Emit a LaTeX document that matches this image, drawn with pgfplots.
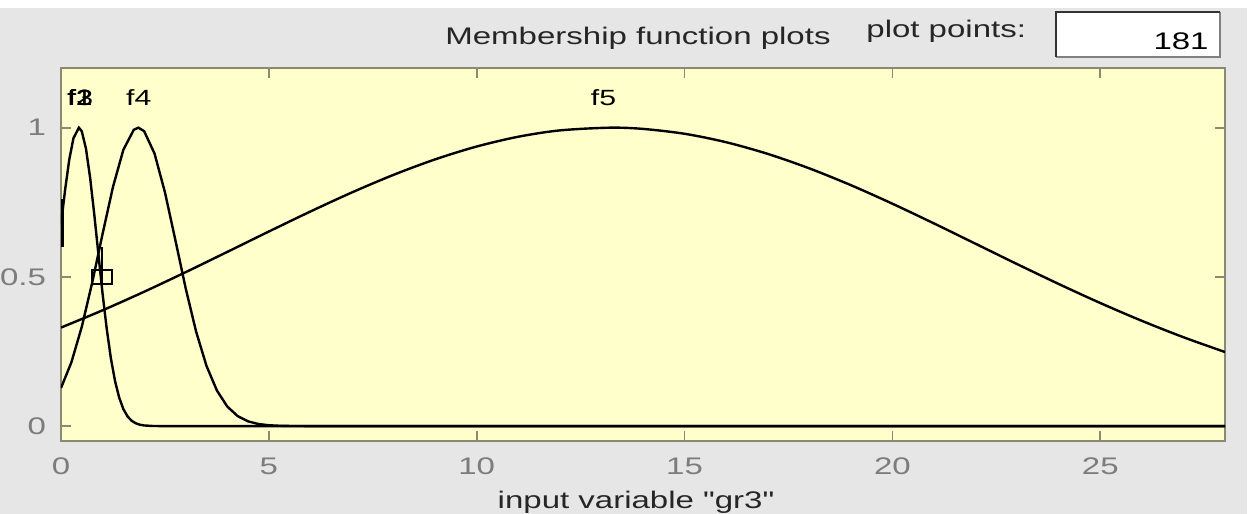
\documentclass[border=0pt]{standalone}
\usepackage{fontspec}
\setmainfont[FakeStretch=1.375]{Liberation Sans}
\newfontfamily\lib[FakeStretch=1.375]{Liberation Sans}
\usepackage{pgfplots}
\pgfplotsset{compat=1.18}
\definecolor{winbg}{HTML}{E6E6E6}
\definecolor{axbg}{HTML}{FFFFCC}
\definecolor{framec}{HTML}{8A8A74}
\definecolor{tickc}{HTML}{7C7C7C}
\definecolor{textc}{HTML}{262626}
\newcommand{\tf}{\lib\fontsize{12}{14}\selectfont}
\newcommand{\lf}{\lib\fontsize{11}{13}\selectfont}
\begin{document}
\begin{tikzpicture}
\begin{scope}[x=0.5pt,y=-0.5pt]
\fill[winbg] (0,0) rectangle (1254,514);
\fill[white] (0,0) rectangle (1254,8);
\fill[white] (1247,0) rectangle (1254,514);
\node[anchor=base, text=textc, font=\tf, inner sep=0] at (638,45) {Membership function plots};
\node[anchor=base west, text=textc, font=\tf, inner sep=0] at (866,38) {plot points:};
\fill[white] (1056,12) rectangle (1220,57);
\draw[gray, line width=0.6pt] (1056,57) -- (1220,57) -- (1220,12);
\draw[black!80, line width=1.2pt] (1056,57) -- (1056,12) -- (1220,12);
\node[anchor=base east, text=black, font=\tf, inner sep=0] at (1209,49) {181};
\end{scope}
\begin{axis}[
  at={(30.5pt,-220.5pt)}, anchor=south west, scale only axis,
  width=582pt, height=186.5pt,
  xmin=0, xmax=28, ymin=-0.05, ymax=1.2,
  axis background/.style={fill=axbg},
  axis line style={draw=framec, line width=0.9pt},
  xtick={0,5,10,15,20,25}, ytick={0,0.5,1},
  tick align=inside, major tick length=5pt,
  tick style={draw=framec, line width=0.9pt},
  tick label style={font=\tf, text=tickc},
  /pgf/number format/assume math mode=true,
  yticklabel style={xshift=-4pt},
  xticklabel style={yshift=-5pt},
  xlabel={input variable "gr3"},
  xlabel style={at={(axis description cs:0.494,-0.18)}, anchor=base, font=\tf, text=textc, inner sep=0},
]
% f5
\addplot[black, line width=1.2pt, smooth, tension=0.5] coordinates {
(0,0.3301) (1,0.3880) (2,0.4502) (3,0.5159) (4,0.5837) (5,0.6520) (6,0.7191) (7,0.7831)
(8,0.8420) (9,0.8938) (10,0.9369) (11,0.9697) (12,0.9909) (13.2,1.0) (14,0.9959)
(15,0.9796) (16,0.9513) (17,0.9122) (18,0.8637) (19,0.8074) (20,0.7452) (21,0.6791)
(22,0.6110) (23,0.5428) (24,0.4762) (25,0.4124) (26,0.3527) (27,0.2978) (28,0.2482)};
% f4
\addplot[black, line width=1.2pt] coordinates {
(0,0.1276) (0.25,0.2137) (0.5,0.3326) (0.75,0.4803) (1.0,0.6439) (1.25,0.8013) (1.5,0.9258)
(1.75,0.9928) (1.86,1.0) (2.0,0.9884) (2.25,0.9134) (2.5,0.7837) (2.75,0.6241) (3.0,0.4613)
(3.25,0.3166) (3.5,0.2017) (3.75,0.1193) (4.0,0.0655) (4.25,0.0334) (4.5,0.0158)
(4.75,0.0069) (5.0,0.0028) (5.25,0.0011) (5.5,0.0004) (6,0) (28,0)};
% f3
\addplot[black, line width=1.2pt] coordinates {
(0,0.675) (0.1,0.793) (0.2,0.894) (0.3,0.965) (0.43,1.0) (0.5,0.988) (0.6,0.930)
(0.7,0.833) (0.8,0.710) (0.9,0.576) (1.0,0.444) (1.1,0.326) (1.2,0.227) (1.3,0.151)
(1.4,0.0952) (1.5,0.0571) (1.6,0.0326) (1.7,0.0177) (1.8,0.0092) (1.9,0.0045)
(2.0,0.0021) (2.2,0.0004) (2.4,0) (28,0)};
% degenerate functions
\addplot[black, line width=1.6pt] coordinates {(0.03,0.60) (0.03,0.76)};
\addplot[black, line width=0.9pt] coordinates {(0.74,0.476) (1.22,0.476) (1.22,0.524) (0.74,0.524) (0.74,0.476)};
\addplot[black, line width=0.9pt] coordinates {(0.98,0.476) (0.98,0.60)};
% labels
\node[anchor=base, font=\lf, inner sep=0] at (axis cs:0.45,1.076) {f1};
\node[anchor=base, font=\lf, inner sep=0] at (axis cs:0.46,1.076) {f2};
\node[anchor=base, font=\lf, inner sep=0] at (axis cs:0.47,1.076) {f3};
\node[anchor=base, font=\lf, inner sep=0] at (axis cs:1.87,1.076) {f4};
\node[anchor=base, font=\lf, inner sep=0] at (axis cs:13.05,1.073) {f5};
\end{axis}
\pgfresetboundingbox
\path[use as bounding box] (0,0) rectangle (627pt,-257pt);
\end{tikzpicture}
\end{document}
